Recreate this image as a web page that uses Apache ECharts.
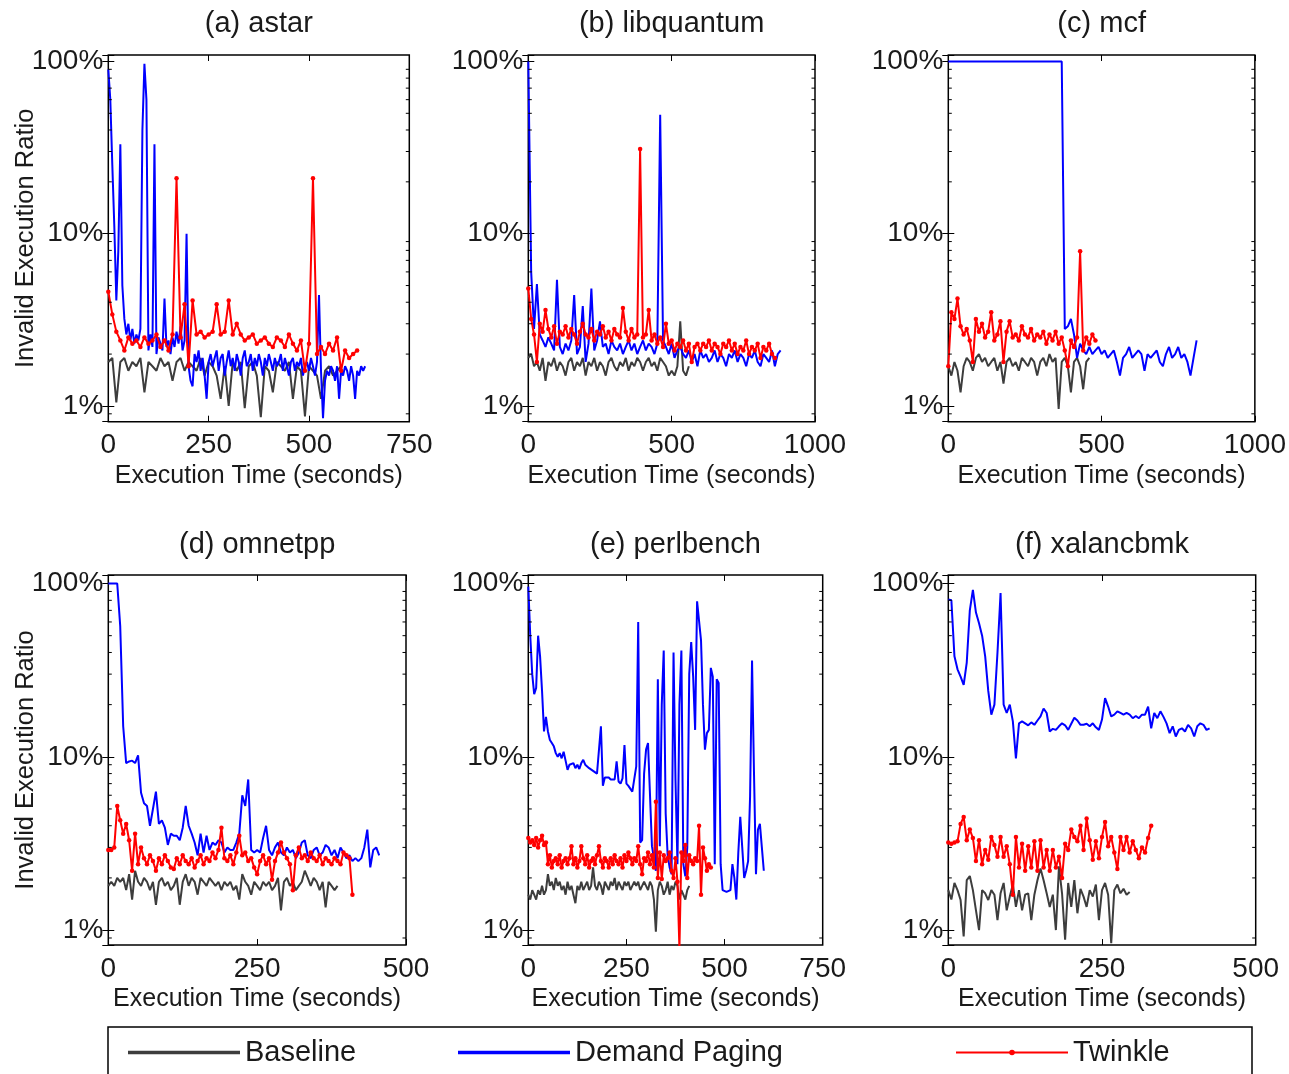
<!DOCTYPE html>
<html><head><meta charset="utf-8">
<script src="https://cdn.jsdelivr.net/npm/echarts@6/dist/echarts.min.js"></script>
<style>html,body{margin:0;padding:0;background:#fff}#c{width:1289px;height:1074px}</style>
</head><body><div id="c"></div>
<script>
// ---------------- data (values in %) ----------------
const PANEL_TITLES = ['(a) astar', '(b) libquantum', '(c) mcf', '(d) omnetpp', '(e) perlbench', '(f) xalancbmk'];
const SERIES_NAMES = ['Baseline', 'Demand Paging', 'Twinkle'];
const X_MAX = [750, 1000, 1000, 500, 750, 500];
const X_INTERVAL = [250, 500, 500, 250, 250, 250];
const Y_TICK_LABELS = ['1%', '10%', '100%'];
const MINOR_TICKS = [0.9, 2, 3, 4, 5, 6, 7, 8, 9, 20, 30, 40, 50, 60, 70, 80, 90];
// sampling step (seconds) per panel: [baseline, demand, twinkle]
const STEPS = [[10, 5, 10], [10, 10, 10], [10, 10, 10], [5, 5, 5], [5, 5, 5], [5, 5, 5]];

const A_BASE = [1.8,1.9,1.05,1.8,1.9,1.6,1.8,1.7,1.9,1.2,1.8,1.7,1.6,1.9,1.7,1.8,1.4,1.8,1.9,1.6,1.8,1.7,1.6,1.9,1.5,1.8,1.7,1.5,1.1,1.7,1.0,1.8,1.6,1.8,0.97,1.7,1.8,1.5,0.86,1.7,1.6,1.2,1.8,1.7,1.6,1.8,1.1,1.7,1.6,0.87,1.7,1.6,1.5,1.1,1.6,1.7,1.5,1.6,1.7];
const A_DEMAND = [90,60,25,11,4.1,8,33,5,3.2,2.6,
3.0,2.4,2.8,2.3,2.6,2.4,2.8,40,97,60,
2.1,2.6,2.2,33,2.0,2.5,2.3,2.1,4.2,2.2,
2.4,2.0,2.5,2.2,2.7,2.3,2.9,2.1,2.4,10,
1.7,1.4,1.3,2.0,1.8,2.1,1.6,1.9,1.5,1.1,
1.8,2.0,1.7,1.9,2.1,1.6,1.9,2.0,1.5,1.8,
2.1,1.7,1.9,1.6,2.0,1.8,1.5,1.9,2.1,1.7,
1.8,2.0,1.6,1.9,1.7,2.0,1.8,1.5,1.9,1.7,
2.0,1.8,1.6,1.9,1.7,1.8,2.0,1.6,1.9,1.7,
1.5,1.8,1.9,1.6,1.8,1.7,1.9,1.5,1.7,1.8,
1.6,1.9,1.7,1.5,1.8,4.4,1.6,0.85,1.4,1.6,
1.5,1.7,1.6,1.4,1.7,1.1,1.6,1.5,1.7,1.6,
1.4,1.7,1.5,1.1,1.6,1.5,1.7,1.6,1.7];
const A_TWINKLE = [4.6,3.4,2.7,2.4,2.1,2.5,2.3,2.4,2.2,2.5,
2.3,2.4,2.6,2.2,2.4,2.1,2.6,21,2.5,3.9,
1.7,4.1,2.6,2.7,2.5,2.6,2.7,3.9,2.6,2.7,
4.1,2.6,3.0,2.6,2.4,2.5,2.6,2.3,2.4,2.5,
2.3,2.2,2.5,2.4,2.2,2.6,2.3,2.1,2.4,1.6,
2.3,21,2.0,2.2,2.0,2.3,2.1,2.5,1.6,2.1,
1.9,2.0,2.1];

const B_BASE = [1.9,2.0,1.7,1.8,1.6,1.9,1.4,1.8,1.7,1.9,
1.6,1.8,1.7,1.5,1.8,1.9,1.6,1.8,1.7,1.9,
1.5,1.8,1.7,1.9,1.6,1.8,1.7,1.5,1.8,1.9,
1.7,1.6,1.8,1.7,1.9,1.6,1.8,1.7,1.9,1.8,
1.6,1.8,1.9,1.7,1.8,1.6,1.9,1.8,1.7,1.5,
1.6,1.5,1.7,3.1,1.6,1.5,1.7];
const B_DEMAND = [100,6,2.8,5.1,2.6,2.4,2.2,2.5,2.3,2.1,
5.4,2.2,2.0,2.3,2.1,2.4,4.4,2.0,2.2,3.8,
1.8,2.3,4.8,2.1,2.4,3.1,2.2,2.3,2.0,2.4,
2.2,2.1,2.3,2.0,2.2,2.4,2.1,2.3,2.0,2.2,
2.4,2.1,2.3,2.2,2.0,2.3,49,2.4,2.2,2.0,
2.3,1.9,2.1,2.2,2.0,1.9,2.1,1.8,2.0,1.7,
2.1,1.9,2.0,1.8,1.9,2.1,1.8,2.0,1.9,1.7,
2.0,1.9,2.1,1.8,2.0,1.9,1.7,2.0,1.9,2.1,
1.8,1.7,2.0,1.9,1.8,2.1,1.7,2.0,2.1];
const B_TWINKLE = [4.8,3.2,2.6,1.8,3.0,2.7,3.6,2.8,2.5,2.9,
2.3,2.7,2.6,2.9,2.5,2.8,2.6,2.3,2.7,3.0,
2.6,2.5,2.8,2.4,2.7,2.6,2.9,2.5,2.7,2.4,
2.8,2.6,2.5,3.7,2.7,2.4,2.8,2.5,2.6,31,
2.5,2.6,3.6,2.4,2.6,2.3,2.5,2.2,3.0,2.3,
2.4,2.1,2.3,2.2,2.4,2.1,2.3,1.8,2.2,2.3,
2.1,2.3,2.2,2.4,2.1,2.3,2.2,2.0,2.3,2.2,
2.4,2.1,2.3,2.0,2.2,2.1,2.4,2.0,2.2,2.1,
2.3,1.9,2.2,2.1,2.3,2.0,1.9];

const C_BASE = [1.7,1.5,1.8,1.6,1.2,1.7,1.9,1.8,1.6,1.9,
2.0,1.8,1.9,1.7,1.8,1.9,1.6,1.8,1.35,1.8,
1.9,1.7,1.8,1.6,1.9,1.8,1.7,1.9,1.8,1.5,
1.8,1.9,1.7,2.0,1.8,1.9,0.96,1.8,1.9,1.7,
1.2,1.8,1.9,1.7,1.25,1.8,1.9];
const C_DEMAND = [100,100,100,100,100,100,100,100,100,100,
100,100,100,100,100,100,100,100,100,100,
100,100,100,100,100,100,100,100,100,100,
100,100,100,100,100,100,100,100,
2.8,2.9,3.2,2.6,1.9,2.3,2.1,2.0,2.2,2.0,
2.1,2.2,2.0,2.1,1.9,2.0,2.1,1.8,1.5,1.9,
2.0,2.2,1.9,2.0,2.1,2.0,1.6,2.0,1.9,2.0,
2.1,1.8,1.7,2.0,2.2,1.9,2.0,2.2,1.9,2.0,
1.8,1.5,1.9,2.4];
const C_TWINKLE = [1.7,3.5,3.2,4.2,2.9,2.6,2.8,2.4,1.8,3.2,
2.7,3.0,2.5,2.7,3.5,2.4,2.6,3.1,1.8,2.7,
3.1,2.5,2.6,2.4,2.9,2.6,2.5,2.8,2.4,2.6,
2.5,2.7,2.3,2.6,2.4,2.7,2.3,2.5,2.1,1.7,
2.4,2.2,2.5,7.9,2.1,2.5,2.3,2.6,2.4];

const D_BASE = [1.8,1.9,1.8,2.0,1.9,2.0,1.7,2.1,1.5,2.2,
1.9,1.8,2.0,1.9,1.7,1.9,1.4,1.9,2.0,1.8,
1.9,1.7,1.8,2.0,1.4,1.9,2.1,1.8,2.0,1.9,
1.6,2.0,1.9,1.8,2.0,1.9,1.8,1.9,1.7,1.9,
1.8,1.9,1.7,1.8,1.5,2.1,1.9,1.8,1.6,1.9,
1.8,1.7,1.9,1.8,1.9,1.7,1.8,2.0,1.3,1.9,
2.0,1.8,1.9,1.7,1.8,1.9,2.2,2.0,1.8,2.0,
1.9,1.7,1.9,1.35,1.9,1.8,1.7,1.8];
const D_DEMAND = [100,100,100,100,57,15,9.2,9.4,9.5,9.2,
10.2,6.2,5.4,5.2,4.0,5.0,6.3,4.1,4.3,3.9,
3.1,3.6,3.5,3.5,3.3,3.9,5.2,4.0,3.6,3.2,
2.7,3.6,2.8,3.5,2.9,3.2,3.1,3.3,3.2,2.8,
3.0,2.9,2.9,3.2,3.6,6.0,5.2,7.4,2.9,2.8,
2.9,2.8,3.4,4.0,2.9,2.7,3.0,3.2,2.8,2.7,
3.0,2.8,2.9,2.6,2.8,3.2,3.3,2.7,2.6,2.9,
3.0,2.7,2.8,3.1,3.0,2.7,2.9,2.6,3.0,2.8,
2.6,2.7,2.5,2.6,2.5,2.6,3.0,3.8,2.3,2.9,
3.0,2.7];
const D_TWINKLE = [2.9,2.9,3.0,5.2,4.3,3.6,4.1,3.3,2.2,3.6,
2.4,3.0,2.6,2.4,2.7,2.5,2.2,2.6,2.4,2.7,
2.5,2.3,2.25,2.6,2.4,2.7,2.5,2.4,2.6,2.3,
2.5,2.7,2.4,2.6,2.5,2.8,2.6,2.9,3.9,2.6,
2.5,2.7,2.4,2.8,3.5,2.7,2.8,2.5,2.6,2.3,
2.1,2.5,2.7,2.4,2.6,1.95,2.5,2.8,3.2,2.8,
2.6,2.4,1.7,2.7,3.0,2.6,2.7,2.5,2.8,2.6,
2.5,2.7,2.4,2.6,2.5,2.4,2.6,2.5,2.4,2.8,
2.7,2.6,1.6];

const E_BASE = [1.6,1.5,1.7,1.6,1.5,1.7,1.6,1.8,1.6,1.7,
2.1,1.8,1.9,1.7,2.0,1.8,1.9,1.7,1.8,1.6,
1.9,1.7,1.8,1.6,1.43,1.8,1.7,1.9,1.7,1.8,
1.9,1.7,1.8,2.3,1.8,1.7,1.9,1.8,1.6,1.9,
1.8,1.7,1.9,1.8,2.0,1.7,1.9,1.8,1.7,1.9,
1.8,1.9,1.7,1.8,1.9,1.8,1.9,1.7,1.8,1.9,
1.8,1.7,1.9,1.8,1.5,0.98,1.7,1.9,1.8,1.6,
1.7,1.9,1.6,1.8,1.7,1.9,1.8,1.5,1.7,1.6,
1.5,1.7,1.8];
const E_DEMAND = [96,50,30,23,25,50,38,24,14,17,
14,12.5,12,11.5,10.5,10,10.5,9.8,10.7,9.5,
8.4,9.0,8.8,9.2,8.6,9.0,8.5,9.2,9.6,9.0,
8.8,8.6,8.4,8.3,8.1,8.0,7.8,15,6.8,7.6,
7.5,7.6,7.4,7.3,7.4,9.4,7.2,7.0,7.5,11.7,
7.0,6.8,6.7,6.3,6.2,8.8,60,3.2,3.3,8,
11,12,12.3,3.05,2.6,2.2,28,3.05,20,41,
4.7,2.7,2.3,2.1,40,7.3,2.4,20,41,2.4,
2.04,3.0,30,46,29,14.3,79,79,47,20,
11,13.7,14.3,32.6,29,2.4,28,26.7,2.4,1.7,
1.66,1.66,1.7,1.7,2.4,2.0,1.5,2.8,4.5,3.0,
2.0,2.2,2.5,5.9,36,8,2.1,3.8,4.1,3.0,
2.2];
const E_TWINKLE = [3.4,3.2,3.3,3.1,3.4,3.0,3.3,3.5,3.1,3.2,
2.4,2.7,2.3,2.5,2.6,2.4,2.7,2.3,2.5,2.6,
2.4,2.6,3.05,2.4,2.6,2.3,2.5,3.05,2.6,2.4,
2.7,2.3,2.5,2.6,2.4,2.7,3.05,2.5,2.3,2.6,
2.5,2.3,2.6,2.4,2.7,2.5,2.4,2.6,2.3,2.7,
2.5,2.8,2.6,2.4,2.6,2.5,3.05,2.4,2.1,2.6,
2.5,2.8,2.4,2.7,2.3,5.5,2.0,2.8,1.97,2.7,
2.5,2.6,2.8,2.2,2.0,2.6,1.9,0.78,2.8,2.5,
3.1,2.0,2.7,2.5,2.4,2.6,2.5,4.0,1.6,3.0,
2.6,2.2,2.4,2.3];

const F_BASE = [1.7,1.5,1.87,1.7,1.49,0.92,1.94,2.05,1.7,1.3,
1.0,1.7,1.63,1.49,1.7,1.6,1.14,1.63,1.87,1.3,
1.56,1.83,1.36,1.7,1.3,1.6,1.63,1.14,1.6,1.94,
2.27,1.94,1.63,1.36,1.6,1.0,2.33,1.63,0.88,1.87,
1.36,1.94,1.25,1.73,1.56,1.36,1.7,1.56,1.83,1.14,
1.7,1.87,1.6,0.84,1.7,1.83,1.63,1.73,1.6,1.66];
const F_DEMAND = [81,80,38,32,29,26,35,70,92,68,
59,50,38,24,17.5,20,40,88,20,17.9,
20,16,9.8,15.6,16,15.6,15.2,15.8,15.3,16.2,
17.1,19,17.9,14,14.5,14.3,15.0,15.6,15.2,14.3,
15.5,16.8,16.2,15.3,15.3,15.5,15.0,15.6,14.8,14.3,
16.4,21.8,19.5,17.1,17.5,18.3,17.9,17.5,17.9,17.5,
16.7,17.2,16.7,17.5,17.5,19.5,14.6,17.9,16.7,18.3,
17.0,15.6,13.7,15.0,13.1,14.3,14.6,14.0,15.3,14.6,
13.1,15.0,15.6,15.3,14.3,14.6];
const F_TWINKLE = [3.2,3.15,3.2,3.25,4.1,4.5,3.3,3.8,3.4,2.5,
3.3,2.4,2.9,2.55,3.45,3.1,2.65,3.45,2.65,3.05,
2.4,1.6,3.45,2.3,3.15,2.2,3.05,2.3,3.25,2.2,
3.3,2.3,2.9,2.2,2.9,2.3,2.65,2.0,3.15,2.9,
3.8,3.45,3.25,4.0,2.9,4.4,3.3,2.55,3.25,2.6,
3.45,4.2,3.05,3.45,2.8,2.25,3.45,2.9,3.45,2.8,
3.25,2.9,2.6,3.0,2.8,3.4,4.0];

const PANEL_DATA = [
  [A_BASE, A_DEMAND, A_TWINKLE],
  [B_BASE, B_DEMAND, B_TWINKLE],
  [C_BASE, C_DEMAND, C_TWINKLE],
  [D_BASE, D_DEMAND, D_TWINKLE],
  [E_BASE, E_DEMAND, E_TWINKLE],
  [F_BASE, F_DEMAND, F_TWINKLE]
];

// ---------------- layout & style ----------------
const FONT = '"Liberation Sans", Arial, Helvetica, sans-serif';
const TXT = '#1a1a1a';
const GRID_LEFT = [108.3, 528.3, 948.3, 108.3, 528.3, 948.3];
const GRID_WIDTH = [301, 286.7, 306.7, 297.7, 294.4, 307.4];
const ROW_TOP = [55, 575];
const ROW_HEIGHT = [366.7, 370];
const ROW_YMIN = [0.81, 0.82];
const ROW_YMAX = [109, 112];
const TITLE_TOP = [9, 530];
const COLORS = ['#3d3d3d', '#0000ff', '#ff0000'];

function yFmt(v) {
  const l = Math.log10(v), r = Math.round(l);
  return Math.abs(l - r) < 1e-6 ? (Y_TICK_LABELS[r] || '') : '';
}
function xFmt(v) { return String(v); }
function minorTick(params, api) {
  const cs = params.coordSys;
  const y = api.coord([0, api.value(1)])[1];
  const st = { stroke: '#000', lineWidth: 1 };
  return { type: 'group', children: [
    { type: 'line', shape: { x1: cs.x, y1: y, x2: cs.x + 3.5, y2: y }, style: st },
    { type: 'line', shape: { x1: cs.x + cs.width, y1: y, x2: cs.x + cs.width - 3.5, y2: y }, style: st }
  ]};
}

const grids = [], xAxes = [], yAxes = [], series = [], titles = [];
for (let i = 0; i < 6; i++) {
  const row = i < 3 ? 0 : 1;
  grids.push({ left: GRID_LEFT[i], top: ROW_TOP[row], width: GRID_WIDTH[i], height: ROW_HEIGHT[row],
    show: true, borderColor: '#000', borderWidth: 1.5, backgroundColor: 'transparent' });
  titles.push({ text: PANEL_TITLES[i], left: GRID_LEFT[i] + GRID_WIDTH[i] / 2, top: TITLE_TOP[row], textAlign: 'center', padding: 0,
    textStyle: { fontFamily: FONT, fontSize: 29, fontWeight: 'normal', color: TXT } });
  const xBase = { type: 'value', gridIndex: i, min: 0, max: X_MAX[i], interval: X_INTERVAL[i],
    axisLine: { show: false }, splitLine: { show: false },
    axisTick: { inside: true, length: 6, lineStyle: { color: '#000', width: 1 } } };
  xAxes.push(Object.assign({}, xBase, { position: 'bottom',
    axisLabel: { formatter: xFmt, fontFamily: FONT, fontSize: 28, color: TXT, margin: 10 },
    name: 'Execution Time (seconds)', nameLocation: 'middle', nameGap: 42, nameMoveOverlap: false,
    nameTextStyle: { fontFamily: FONT, fontSize: 25, color: TXT } }));
  xAxes.push(Object.assign({}, xBase, { position: 'top', axisLabel: { show: false } }));
  const yBase = { type: 'log', gridIndex: i, min: ROW_YMIN[row], max: ROW_YMAX[row],
    axisLine: { show: false }, splitLine: { show: false }, minorTick: { show: false },
    axisTick: { inside: true, length: 6, lineStyle: { color: '#000', width: 1 } } };
  yAxes.push(Object.assign({}, yBase, { position: 'left',
    axisLabel: { formatter: yFmt, fontFamily: FONT, fontSize: 28, color: TXT, margin: 5 },
    name: (i % 3 === 0) ? 'Invalid Execution Ratio' : '', nameLocation: 'middle', nameGap: 69, nameMoveOverlap: false,
    nameTextStyle: { fontFamily: FONT, fontSize: 25.5, color: TXT } }));
  yAxes.push(Object.assign({}, yBase, { position: 'right', axisLabel: { show: false } }));

  for (let s = 0; s < 3; s++) {
    const step = STEPS[i][s];
    const pts = PANEL_DATA[i][s].map((v, k) => [k * step, v]);
    const ser = { type: 'line', name: SERIES_NAMES[s], xAxisIndex: 2 * i, yAxisIndex: 2 * i, data: pts,
      silent: true, animation: false, z: 2 + s,
      lineStyle: { color: COLORS[s], width: 2 }, itemStyle: { color: COLORS[s] } };
    if (s === 2) { ser.symbol = 'circle'; ser.symbolSize = 4.5; ser.showAllSymbol = true; }
    else { ser.symbol = 'none'; }
    series.push(ser);
  }
  series.push({ type: 'custom', name: 'minor', xAxisIndex: 2 * i, yAxisIndex: 2 * i, silent: true, animation: false,
    data: MINOR_TICKS.map(v => [0, v]), renderItem: minorTick, z: 10, clip: false });
}

const legendText = { fontFamily: FONT, fontSize: 29, color: TXT };
const option = {
  backgroundColor: '#fff',
  animation: false,
  title: titles,
  grid: grids,
  xAxis: xAxes,
  yAxis: yAxes,
  series: series,
  legend: [
    { data: [{ name: 'Baseline', icon: 'rect' }], left: 128, top: 1038, padding: 0, itemWidth: 112, itemHeight: 3.5, itemGap: 0, textStyle: legendText, selectedMode: false },
    { data: [{ name: 'Demand Paging', icon: 'rect' }], left: 458, top: 1038, padding: 0, itemWidth: 112, itemHeight: 3.5, itemGap: 0, textStyle: legendText, selectedMode: false },
    { data: ['Twinkle'], left: 955, top: 1038, padding: 0, itemWidth: 112, itemHeight: 7, itemGap: 0, textStyle: legendText, selectedMode: false, lineStyle: { width: 2 } }
  ],
  graphic: [
    { type: 'rect', shape: { x: 108, y: 1027, width: 1144, height: 70 }, style: { fill: 'none', stroke: '#000', lineWidth: 1.5 }, silent: true }
  ]
};
const chart = echarts.init(document.getElementById('c'));
chart.setOption(option);
</script></body></html>
